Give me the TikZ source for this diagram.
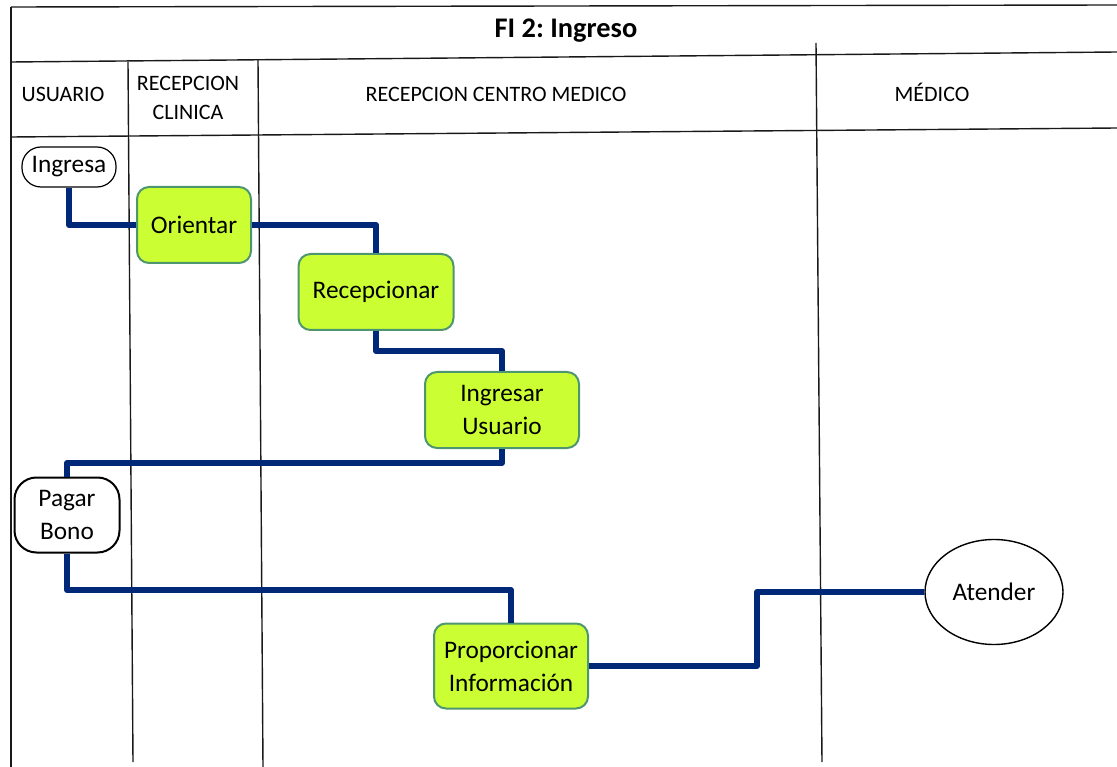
\documentclass[tikz,border=0pt]{standalone}
\usepackage{fontspec}
\setmainfont{Carlito}
\frenchspacing
\usetikzlibrary{shapes.geometric}
\definecolor{lime}{RGB}{204,255,51}
\definecolor{limeedge}{RGB}{78,150,112}
\definecolor{navy}{RGB}{0,40,120}
\definecolor{rule}{RGB}{25,25,25}
\tikzset{
  lane/.style={draw=rule, line width=1.4pt},
  task/.style={rectangle, rounded corners=12pt, fill=lime, draw=limeedge,
    line width=2pt, align=center, font=\fontsize{25.3}{33}\selectfont, inner sep=0pt},
  term/.style={rectangle, draw=black, fill=white, align=center,
    font=\fontsize{25.3}{33}\selectfont, inner sep=0pt},
  lanehead/.style={align=center, font=\fontsize{22}{29}\selectfont, inner sep=0pt},
  flow/.style={draw=navy, line width=6pt, line join=round},
}
\begin{document}
\begin{tikzpicture}[x=1pt, y=-1pt]
\useasboundingbox (0,0) rectangle (1117,767);

% swimlane frame
\draw[lane] (11,7) -- (1117,5);
\draw[lane] (11,7) -- (11,767);
\draw[lane] (11,62) -- (1117,52);
\draw[lane] (11,137) -- (1117,128);
\draw[lane] (128,62) -- (133,762);
\draw[lane] (258,60) -- (263,767);
\draw[lane] (816,43) -- (822,762);

% titles
\node[font=\bfseries\fontsize{28.4}{32}\selectfont] (title) at (566,31) {FI 2: Ingreso};
\node[lanehead] (hUsuario) at (63,94) {USUARIO};
\node[lanehead] (hClinica) at (188,98) {RECEPCION\\CLINICA};
\node[lanehead] (hCentro) at (496,94) {RECEPCION CENTRO MEDICO};
\node[lanehead] (hMedico) at (932,92) {MÉDICO};

% activities
\node[term, rounded corners=19pt, line width=1.2pt, minimum width=94pt, minimum height=40pt] (ingresa) at (69,167) {Ingresa};
\node[task, minimum width=114pt, minimum height=76pt] (orientar) at (194,225) {Orientar};
\node[task, minimum width=155pt, minimum height=76pt] (recep) at (376,292) {Recepcionar};
\node[task, minimum width=154pt, minimum height=76pt] (ingus) at (502,410) {Ingresar\\Usuario};
\node[term, rounded corners=22pt, line width=2pt, minimum width=105pt, minimum height=75pt] (pagar) at (67,515) {Pagar\\Bono};
\node[task, minimum width=154pt, minimum height=85pt] (prop) at (511,666) {Proporcionar\\Información};
\node[ellipse, draw=black, line width=1.4pt, minimum width=138pt, minimum height=105pt, inner sep=0pt,
  font=\fontsize{25.3}{33}\selectfont] (atender) at (994,592) {Atender};

% bend points of the flow
\coordinate (b2) at (440,351);
\coordinate (b3) at (300,463);
\coordinate (b4) at (300,590);
\coordinate (b5) at (757,592);

% flow
\draw[flow] (ingresa.south) |- (orientar.west);
\draw[flow] (orientar.east) -| (recep.north);
\draw[flow] (recep.south) |- (b2) -| (ingus.north);
\draw[flow] (ingus.south) |- (b3) -| (pagar.north);
\draw[flow] (pagar.south) |- (b4) -| (prop.north);
\draw[flow] (prop.east) -| (b5) -- (atender.west);
\end{tikzpicture}
\end{document}
